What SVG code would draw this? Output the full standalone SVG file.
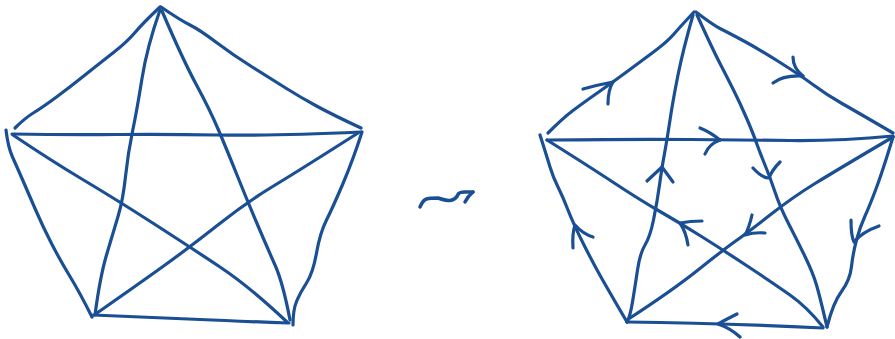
<svg xmlns="http://www.w3.org/2000/svg" width="895" height="339" viewBox="0 0 895 339">
<style>
.s{fill:none;stroke:#1b4f94;stroke-width:3.2;stroke-linecap:round;stroke-linejoin:round}
</style>
<rect width="895" height="339" fill="#ffffff"/>
<g id="left-graph">
<g id="left-connectors" class="s">
<path d="M160,7 Q143,23 135,32.5 Q127,42 113.5,52.5 Q100,63 85,75 Q70,87 56.5,97 Q43,107 34,112.5 Q25,118 15,128"/>
<path d="M161,7 Q180,20 190,25 Q200,30 216.5,42.5 Q233,55 253,67.5 Q273,80 286.5,88.5 Q300,97 316.5,106 Q333,115 361,128"/>
<path d="M12,134 Q67,135 117,134.5 Q167,134 217,135 Q267,136 361,132"/>
<path d="M6,130 Q8,147 12.5,157 Q17,167 22,178.5 Q27,190 35,208.5 Q43,227 51.5,243.5 Q60,260 70,276.5 Q80,293 92,317"/>
<path d="M362,132 Q353,160 343,183.5 Q333,207 326.5,220 Q320,233 316.5,253 Q313,273 306.5,283 Q300,293 296.5,301.5 Q293,310 293,325"/>
<path d="M93,315 Q167,318 200,319.5 Q233,321 289,323"/>
<path d="M160,10 Q147,47 142,78.5 Q137,110 132.5,131.5 Q128,153 125.5,176.5 Q123,200 118,216.5 Q113,233 106.5,255 Q100,277 95,315"/>
<path d="M162,11 Q183,60 196.5,85 Q210,110 218.5,130 Q227,150 237,175 Q247,200 257,223.5 Q267,247 275,265 Q283,283 290,320"/>
<path d="M13,135 Q50,160 83.5,180 Q117,200 153.5,223.5 Q190,247 220,267 Q250,287 287,322"/>
<path d="M358,133 Q300,170 273.5,186 Q247,202 218.5,224.5 Q190,247 165,265 Q140,283 97,313"/>
</g>
</g>
<g id="squiggle" class="s" style="stroke-width:3.5">
<path d="M420,207 Q423,200 426.5,199 Q430,198 438,198 Q447,201 450,200.5 Q453,200 455,198.5 Q457,197 458,194.5 Q459,192 465,192 L473,192"/>
<path d="M473,192 Q468,196 465,202"/>
</g>
<g id="right-graph">
<g id="right-connectors" class="s">
<path d="M694,12 Q680,27 673.5,34.5 Q667,42 653.5,52 Q640,62 626.5,72 Q613,82 598,92.5 Q583,103 573,110.5 Q563,118 548,133"/>
<path d="M696,12 Q713,25 720,28.5 Q727,32 742,40 Q757,48 778.5,61.5 Q800,75 813.5,85 Q827,95 842,103.5 Q857,112 893,133"/>
<path d="M547,140 Q640,139 690,139.5 Q740,140 790,140.5 Q840,141 893,136"/>
<path d="M540,135 Q547,157 550,167 Q553,177 558,187 Q563,197 568,210 Q573,223 583,243 Q593,263 601.5,278 Q610,293 627,322"/>
<path d="M893,137 Q883,170 876.5,187.5 Q870,205 865,216 Q860,227 856.5,240 Q853,253 851.5,266.5 Q850,280 841.5,291.5 Q833,303 827,327"/>
<path d="M627,322 Q720,323 823,328"/>
<path d="M693,15 Q683,50 678,75 Q673,100 670,120 Q667,140 664.5,153.5 Q662,167 659.5,185 Q657,203 653.5,220 Q650,237 645,245 Q640,253 637.5,270 Q635,287 632.5,302 Q630,317 627,322"/>
<path d="M697,15 Q713,50 720,63.5 Q727,77 733.5,90 Q740,103 746.5,118 Q753,133 756.5,143 Q760,153 765,165 Q770,177 775,192 Q780,207 788.5,223.5 Q797,240 805,256.5 Q813,273 816.5,285 Q820,297 827,327"/>
<path d="M547,140 Q590,167 615,183.5 Q640,200 660,211.5 Q680,223 701.5,236.5 Q723,250 748,266.5 Q773,283 790,295 Q807,307 823,327"/>
<path d="M893,137 Q837,170 815,183.5 Q793,197 770,215 Q747,233 735,241.5 Q723,250 698,270 Q673,290 627,320"/>
</g>
<g id="right-arrowheads" class="s">
<path d="M583,89 Q597,85 613,82"/>
<path d="M608,104 Q608,90 613,82"/>
<path d="M793,57 Q793,68 803,76"/>
<path d="M773,83 Q783,75 803,76"/>
<path d="M700,128 Q710,132 720,140"/>
<path d="M705,154 Q709,144 720,140"/>
<path d="M647,181 L662,167 L673,182"/>
<path d="M753,168 Q762,178 769,178 Q772,170 780,162"/>
<path d="M851,220 Q851,236 854,242 Q862,232 879,226"/>
<path d="M573,248 Q572,234 575,225 Q583,234 593,237"/>
<path d="M737,314 Q725,320 718,324 Q730,328 740,337"/>
<path d="M702,221 Q690,221 680,223 Q686,232 688,245"/>
<path d="M752,215 Q749,228 745,235 Q755,232 765,233"/>
</g>
</g>
</svg>
